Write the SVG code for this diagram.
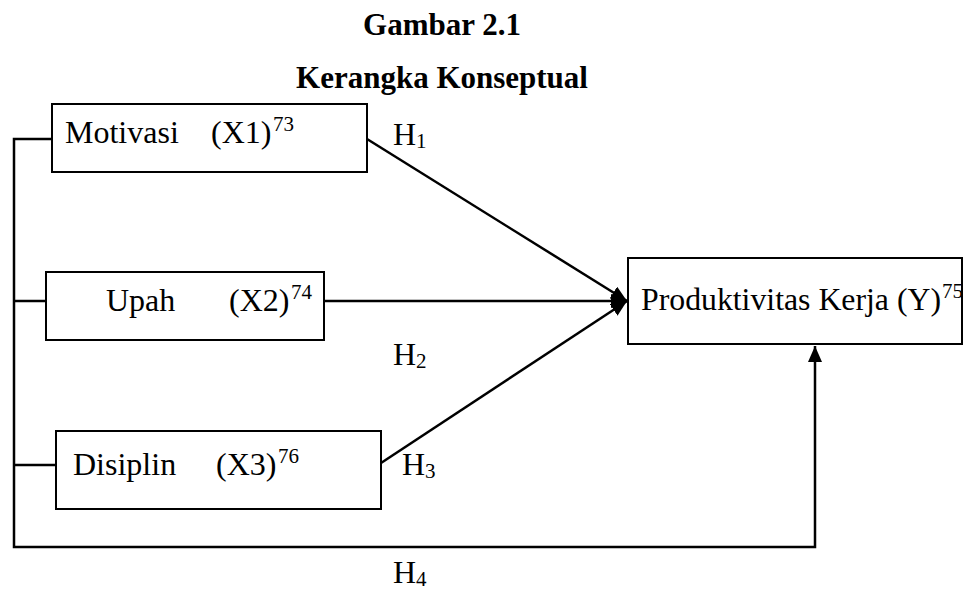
<svg xmlns="http://www.w3.org/2000/svg" width="963" height="590" viewBox="0 0 963 590">
<style>
text{font-family:"Liberation Serif","Times New Roman",serif;fill:#000}
.t{font-size:32px}
.b{font-size:31px;font-weight:bold}
.s{font-size:21px}
.box{fill:#fff;stroke:#000;stroke-width:2}
.ln{fill:none;stroke:#000;stroke-width:2.5}
</style>
<defs>
<marker id="ah" markerUnits="userSpaceOnUse" markerWidth="16" markerHeight="14" refX="16" refY="7" orient="auto">
<path d="M0,0 L16,7 L0,14 z" fill="#000"/>
</marker>
</defs>
<rect width="963" height="590" fill="#fff"/>
<g id="title">
<text class="b" x="442" y="35" text-anchor="middle">Gambar 2.1</text>
<text class="b" x="442" y="88" text-anchor="middle">Kerangka Konseptual</text>
</g>
<g id="connectors">
<polyline class="ln" points="52,139 14,139 14,547 815,547 815,346" marker-end="url(#ah)"/>
<line class="ln" x1="14" y1="301" x2="46" y2="301"/>
<line class="ln" x1="14" y1="465" x2="56" y2="465"/>
<line class="ln" x1="367" y1="139" x2="627" y2="301" marker-end="url(#ah)"/>
<line class="ln" x1="324" y1="301" x2="627" y2="301" marker-end="url(#ah)"/>
<line class="ln" x1="381" y1="463" x2="627" y2="301" marker-end="url(#ah)"/>
</g>
<g id="x1">
<rect class="box" x="52" y="104" width="315" height="68"/>
<text class="t" x="65" y="143">Motivasi</text>
<text class="t" x="211" y="143">(X1)</text>
<text class="s" x="273" y="131">73</text>
</g>
<g id="x2">
<rect class="box" x="46" y="272" width="278" height="68"/>
<text class="t" x="106" y="311">Upah</text>
<text class="t" x="229" y="311">(X2)</text>
<text class="s" x="291" y="299">74</text>
</g>
<g id="x3">
<rect class="box" x="56" y="431" width="325" height="78"/>
<text class="t" x="73" y="475">Disiplin</text>
<text class="t" x="216" y="475">(X3)</text>
<text class="s" x="278" y="463">76</text>
</g>
<g id="y">
<rect class="box" x="628" y="258" width="334" height="86"/>
<text class="t" x="641" y="310" textLength="300" lengthAdjust="spacingAndGlyphs">Produktivitas Kerja (Y)</text>
<text class="s" x="942" y="298">75</text>
</g>
<g id="labels">
<text class="t" x="393" y="145">H<tspan class="s" dy="3">1</tspan></text>
<text class="t" x="393" y="365">H<tspan class="s" dy="3">2</tspan></text>
<text class="t" x="402" y="475">H<tspan class="s" dy="3">3</tspan></text>
<text class="t" x="393" y="583">H<tspan class="s" dy="3">4</tspan></text>
</g>
</svg>
